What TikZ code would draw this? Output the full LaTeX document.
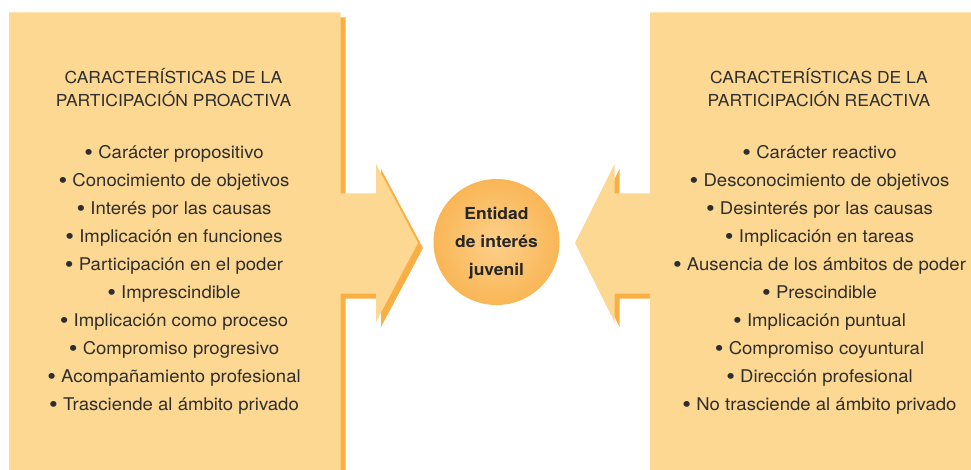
\documentclass[tikz,border=0pt]{standalone}
\usepackage{fontspec}
\setmainfont{TeX Gyre Heros}[FakeStretch=1.06]
\definecolor{panel}{HTML}{FDD892}
\definecolor{panelshadow}{HTML}{FAAF45}
\definecolor{txt}{HTML}{2E2E2E}
\definecolor{hubin}{HTML}{FDD08A}
\definecolor{hubout}{HTML}{F9B656}
\newcommand\bigbullet{\raisebox{-2pt}{\fontsize{23.5}{20}\selectfont•}}
\tikzset{
  item/.style={anchor=base, inner sep=0pt, text=txt, font=\fontsize{17.5}{20}\selectfont},
  headtext/.style={anchor=base, inner sep=0pt, text=txt, font=\fontsize{16.5}{20}\selectfont},
  hubtext/.style={anchor=base, inner sep=0pt, text=black!85, font=\fontsize{16.5}{20}\selectfont\bfseries},
  hub/.style={circle, minimum size=126pt, inner sep=0pt, inner color=hubin, outer color=hubout},
}
\begin{document}
\begin{tikzpicture}[x=1pt,y=-1pt]
\useasboundingbox (0,0) rectangle (971,470);
% left panel with arrow (shadow, then face)
\fill[panelshadow, shift={(5,5)}] (9,12.5) -- (340.5,12.5) -- (340.5,193.5) -- (376,193.5) -- (376,164) -- (418,243) -- (376,322) -- (376,293.5) -- (340.5,293.5) -- (340.5,470) -- (9,470) -- cycle;
\fill[panel] (9,12.5) -- (340.5,12.5) -- (340.5,193.5) -- (376,193.5) -- (376,164) -- (418,243) -- (376,322) -- (376,293.5) -- (340.5,293.5) -- (340.5,470) -- (9,470) -- cycle;
% right panel with arrow
\fill[panelshadow, shift={(5,5)}] (976,12.5) -- (650,12.5) -- (650,193.5) -- (614.5,193.5) -- (614.5,164) -- (575,243) -- (614.5,322) -- (614.5,293.5) -- (650,293.5) -- (650,470) -- (976,470) -- cycle;
\fill[panel] (976,12.5) -- (650,12.5) -- (650,193.5) -- (614.5,193.5) -- (614.5,164) -- (575,243) -- (614.5,322) -- (614.5,293.5) -- (650,293.5) -- (650,470) -- (976,470) -- cycle;
% headings
\node[headtext] (lh1) at (173.5,83.3) {CARACTERÍSTICAS DE LA};
\node[headtext] (lh2) at (173.5,106.8) {PARTICIPACIÓN PROACTIVA};
\node[headtext] (rh1) at (819,83.3) {CARACTERÍSTICAS DE LA};
\node[headtext] (rh2) at (819,106.8) {PARTICIPACIÓN REACTIVA};
% items
\foreach \t [count=\i] in {Carácter propositivo, Conocimiento de objetivos, Interés por las causas, Implicación en funciones, Participación en el poder, Imprescindible, Implicación como proceso, Compromiso progresivo, Acompañamiento profesional, Trasciende al ámbito privado}
  \node[item] (l\i) at (174,{158.3+28*(\i-1)}) {\bigbullet\ \t};
\foreach \t [count=\i] in {Carácter reactivo, Desconocimiento de objetivos, Desinterés por las causas, Implicación en tareas, Ausencia de los ámbitos de poder, Prescindible, Implicación puntual, Compromiso coyuntural, Dirección profesional, No trasciende al ámbito privado}
  \node[item] (r\i) at (819.5,{158.3+28*(\i-1)}) {\bigbullet\ \t};
% hub
\node[hub] (hubc) at (496.5,242) {};
\node[hubtext] (hub1) at (496.5,219.3) {Entidad};
\node[hubtext] (hub2) at (496.5,247.3) {de interés};
\node[hubtext] (hub3) at (496.5,275.3) {juvenil};
\end{tikzpicture}
\end{document}
